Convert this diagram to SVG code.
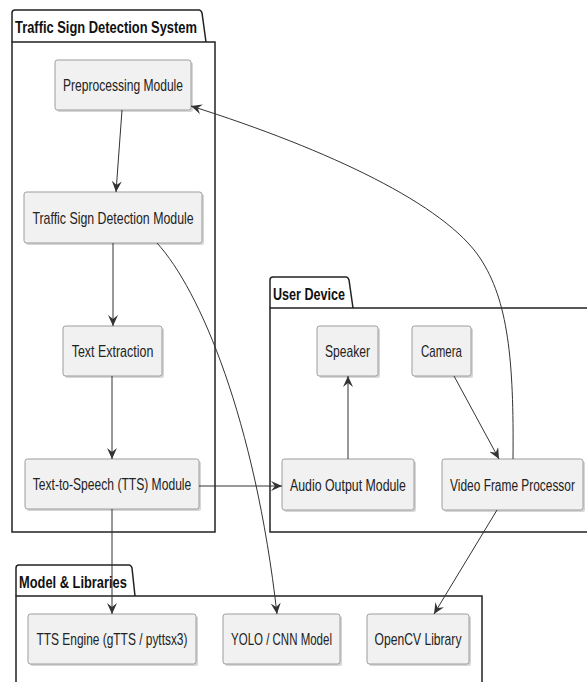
<svg xmlns="http://www.w3.org/2000/svg" width="587" height="682" viewBox="0 0 587 682">
  <style>
    .frame { fill: none; stroke: #222; stroke-width: 1.5; }
    .title { font-family: "Liberation Sans", Arial, sans-serif; font-size: 16px; font-weight: bold; fill: #111; }
    .box { fill: #f1f1f1; stroke: #9c9c9c; stroke-width: 1; }
    .shadow { fill: #d6d6d6; stroke: none; }
    .label { font-family: "Liberation Sans", Arial, sans-serif; font-size: 16px; fill: #222; text-anchor: middle; }
    .edge { fill: none; stroke: #333; stroke-width: 1; marker-end: url(#ah); }
  </style>
  <defs>
    <marker id="ah" viewBox="0 0 12 10" refX="11" refY="5" markerWidth="12" markerHeight="10" orient="auto" markerUnits="userSpaceOnUse">
      <path d="M0,0 L11,5 L0,10 L4,5 Z" fill="#333"/>
    </marker>
  </defs>
  <rect width="587" height="682" fill="#fff"/>

  <!-- packages (labels are drawn horizontally condensed) -->
  <g id="pkg-tsds">
    <path class="frame" d="M12,42 L12,13 Q12,10 15,10 L199,10 Q201,10 202,13 L206,42"/>
    <rect class="frame" x="12" y="42" width="203" height="490"/>
    <text class="title" transform="translate(15,33) scale(0.807,1)">Traffic Sign Detection System</text>
  </g>
  <g id="pkg-user">
    <path class="frame" d="M270,308 L270,280 Q270,277 273,277 L346,277 Q348,277 349,280 L353,308"/>
    <path class="frame" d="M587,308 H270 V532 H587"/>
    <text class="title" transform="translate(273,300) scale(0.786,1)">User Device</text>
  </g>
  <g id="pkg-libs">
    <path class="frame" d="M16,596 L16,568 Q16,565 19,565 L129,565 Q131,565 132,568 L135,596"/>
    <path class="frame" d="M16,682 V596 H482 V682"/>
    <text class="title" transform="translate(19,588) scale(0.804,1)">Model &amp; Libraries</text>
  </g>

  <!-- nodes -->
  <g id="preprocessing">
    <rect class="shadow" x="57" y="62" width="136" height="50" rx="2.5"/>
    <rect class="box" x="55" y="60" width="136" height="50" rx="2.5"/>
    <text class="label" transform="translate(123,91) scale(0.754,1)">Preprocessing Module</text>
  </g>
  <g id="detection">
    <rect class="shadow" x="26" y="194" width="178" height="51" rx="2.5"/>
    <rect class="box" x="24" y="192" width="178" height="51" rx="2.5"/>
    <text class="label" transform="translate(113,223.5) scale(0.772,1)">Traffic Sign Detection Module</text>
  </g>
  <g id="extraction">
    <rect class="shadow" x="65" y="328" width="99" height="50" rx="2.5"/>
    <rect class="box" x="63" y="326" width="99" height="50" rx="2.5"/>
    <text class="label" transform="translate(112.5,357) scale(0.778,1)">Text Extraction</text>
  </g>
  <g id="tts-module">
    <rect class="shadow" x="27" y="461" width="174" height="50" rx="2.5"/>
    <rect class="box" x="25" y="459" width="174" height="50" rx="2.5"/>
    <text class="label" transform="translate(112,490) scale(0.756,1)">Text-to-Speech (TTS) Module</text>
  </g>
  <g id="speaker">
    <rect class="shadow" x="319" y="328" width="61" height="50" rx="2.5"/>
    <rect class="box" x="317" y="326" width="61" height="50" rx="2.5"/>
    <text class="label" transform="translate(347.5,357) scale(0.755,1)">Speaker</text>
  </g>
  <g id="camera">
    <rect class="shadow" x="414" y="328" width="59" height="50" rx="2.5"/>
    <rect class="box" x="412" y="326" width="59" height="50" rx="2.5"/>
    <text class="label" transform="translate(441.5,357) scale(0.72,1)">Camera</text>
  </g>
  <g id="audio-output">
    <rect class="shadow" x="284" y="461" width="132" height="51" rx="2.5"/>
    <rect class="box" x="282" y="459" width="132" height="51" rx="2.5"/>
    <text class="label" transform="translate(348,490.5) scale(0.772,1)">Audio Output Module</text>
  </g>
  <g id="video-frame">
    <rect class="shadow" x="444" y="461" width="141" height="51" rx="2.5"/>
    <rect class="box" x="442" y="459" width="141" height="51" rx="2.5"/>
    <text class="label" transform="translate(512.5,490.5) scale(0.744,1)">Video Frame Processor</text>
  </g>
  <g id="tts-engine">
    <rect class="shadow" x="30" y="616" width="168" height="50" rx="2.5"/>
    <rect class="box" x="28" y="614" width="168" height="50" rx="2.5"/>
    <text class="label" transform="translate(112,645) scale(0.745,1)">TTS Engine (gTTS / pyttsx3)</text>
  </g>
  <g id="yolo">
    <rect class="shadow" x="225" y="616" width="117" height="50" rx="2.5"/>
    <rect class="box" x="223" y="614" width="117" height="50" rx="2.5"/>
    <text class="label" transform="translate(281.5,645) scale(0.719,1)">YOLO / CNN Model</text>
  </g>
  <g id="opencv">
    <rect class="shadow" x="369" y="616" width="102" height="50" rx="2.5"/>
    <rect class="box" x="367" y="614" width="102" height="50" rx="2.5"/>
    <text class="label" transform="translate(418,645) scale(0.758,1)">OpenCV Library</text>
  </g>

  <!-- connectors -->
  <g id="connectors">
    <path class="edge" d="M122,110 L116,192"/>
    <path class="edge" d="M113,243 L113,326"/>
    <path class="edge" d="M112,376 L112,459"/>
    <path class="edge" d="M199,486 L282,486"/>
    <path class="edge" d="M348,459 L348,376"/>
    <path class="edge" d="M454,376 L499,459"/>
    <path class="edge" d="M513,459 C514,360 508,300 480,258 C445,205 330,150 191,106"/>
    <path class="edge" d="M157,243 C200,290 255,420 277,614"/>
    <path class="edge" d="M112,509 L112,614"/>
    <path class="edge" d="M497,510 L434,614"/>
  </g>
</svg>
